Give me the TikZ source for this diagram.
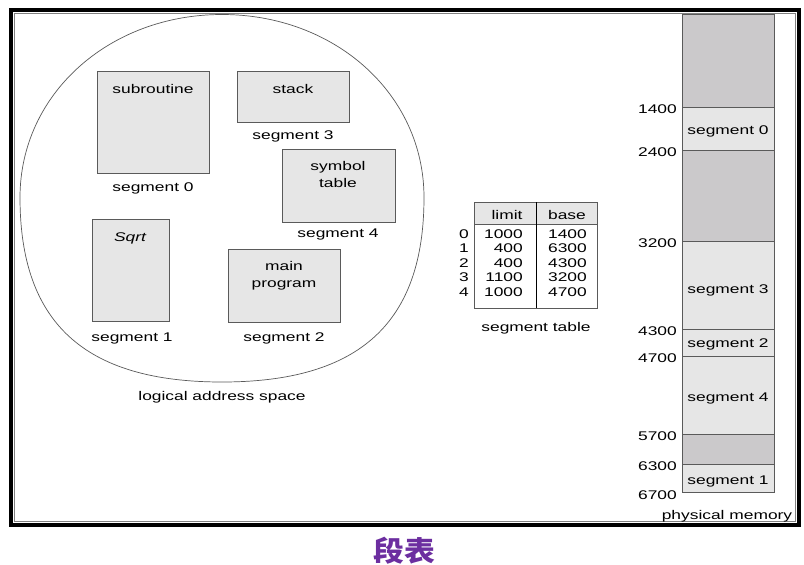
\documentclass[tikz,border=0pt]{standalone}
\usepackage{fontspec}
\setmainfont{Liberation Sans}[FakeStretch=1.38]
\newfontfamily\cjk{Noto Sans CJK SC}[FakeStretch=1.1]
\definecolor{colorSegment}{HTML}{E6E6E6}
\definecolor{colorHole}{HTML}{CBC9CB}
\definecolor{colorEdge}{HTML}{5A5A5A}
\definecolor{colorTitle}{HTML}{6C2EA0}
\newcommand\memLeft{682}
\newcommand\memRight{774}
\newcommand\memLabelX{677}
\newcommand\rowDist{14.5}
\tikzset{
	segbox/.style={draw=colorEdge, fill=colorSegment, line width=0.8pt},
	txt/.style={inner sep=0pt, text height=9pt, text depth=2.5pt, font=\fontsize{12.6}{17}\selectfont},
	twoline/.style={inner sep=0pt, align=center, font=\fontsize{12.6}{17}\selectfont},
}

\begin{document}
\begin{tikzpicture}[x=1pt, y=-1pt]
		\fill[white] (0,0) rectangle (804,565);
		\useasboundingbox (0,0) rectangle (804,565);
		
		% frame
		\draw[line width=4pt] (10.5,9.5) rectangle (798.5,525);
		\draw[gray, line width=1pt] (14.3,13) rectangle (795,521.3);
		
		% logical address space
		\draw[colorEdge, line width=0.7pt]
			(424,197.5)
			.. controls (424,323) and (359.4,382) .. (222,382)
			.. controls (84.6,382) and (20,323) .. (20,197.5)
			.. controls (20,94.2) and (108.9,14.5) .. (222,14.5)
			.. controls (335.1,14.5) and (424,94.2) .. cycle;
		
		\foreach \xa/\ya/\xb/\yb in {97/71/209/173, 237/71/349/122, 282/149/395/222, 92/219/169/321, 228/249/340/322}{
			\draw[segbox] (\xa,\ya) rectangle (\xb,\yb);
		}
		\node[txt] (subroutine) at (153,90) {subroutine};
		\node[txt] (stack) at (293,90) {stack};
		\node[twoline] (symtab) at (338,174) {symbol\\table};
		\node[txt] (sqrt) at (130,238) {\itshape Sqrt};
		\node[twoline] (mainprog) at (284,276) {main\\program};
		\foreach \s/\x/\y in {0/153/188, 3/293/136, 4/338/234, 1/132/338, 2/284/338}{
			\node[txt] (seg\s) at (\x,\y) {segment \s};
		}
		\node[txt] (logical) at (222,397) {logical address space};
		
		% segment table
		\fill[colorSegment] (474,202) rectangle (597,224);
		\draw[colorEdge, line width=0.8pt] (474,202) rectangle (597,308);
		\draw[colorEdge, line width=0.8pt] (474,224) -- (597,224);
		\draw[line width=0.8pt] (536,202) -- (536,308);
		\node[txt] (limitHead) at (507,216) {limit};
		\node[txt] (baseHead) at (567,216) {base};
		\foreach \i/\lim/\bas in {0/1000/1400, 1/400/6300, 2/400/4300, 3/1100/3200, 4/1000/4700}{
			\node[txt, anchor=east] (idx\i) at (469,{235+\rowDist*\i}) {\i};
			\node[txt, anchor=east] (lim\i) at (523,{235+\rowDist*\i}) {\lim};
			\node[txt, anchor=east] (base\i) at (587,{235+\rowDist*\i}) {\bas};
		}
		\node[txt] (segtable) at (536,328) {segment table};
		
		% physical memory
		\foreach \ya/\yb/\col in {14/107/colorHole, 107/150/colorSegment, 150/241/colorHole, 241/329/colorSegment, 329/356/colorSegment, 356/434/colorSegment, 434/464/colorHole, 464/492/colorSegment}{
			\draw[draw=colorEdge, fill=\col, line width=0.8pt] (\memLeft,\ya) rectangle (\memRight,\yb);
		}
		\foreach \s/\y in {0/131, 3/290, 2/344, 4/398, 1/481}{
			\node[txt] (mem\s) at (728,\y) {segment \s};
		}
		\foreach \a/\y in {1400/107, 2400/150, 3200/241, 4300/329, 4700/356, 5700/434, 6300/464, 6700/493}{
			\node[txt, anchor=east] (addr\a) at (\memLabelX,\y+3) {\a};
		}
		\node[txt] (physical) at (727,516) {physical memory};
		
		\node[font=\cjk\bfseries\fontsize{28}{30}\selectfont, text=colorTitle, inner sep=0pt] (title) at (404,551) {段表};
	\end{tikzpicture}
\end{document}
